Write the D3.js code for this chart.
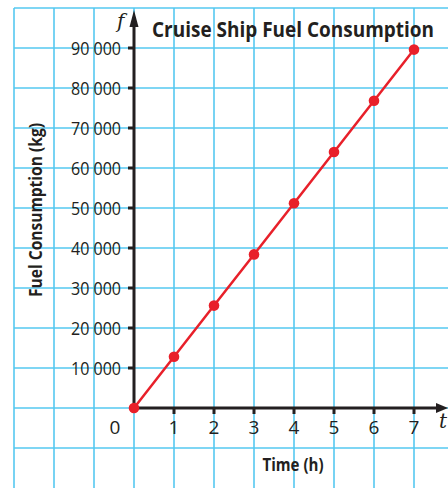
<!DOCTYPE html>
<meta charset="utf-8">
<style>
  body { margin: 0; background: #fff; }
  svg { display: block; font-family: "Open Sans", "Noto Sans", sans-serif; }
  .grid line { stroke: #55c8f0; stroke-width: 1.6; }
  .axis line, .axis path { stroke: #231f20; stroke-width: 3; fill: none; }
  .tick-label { font-size: 19px; fill: #231f20; }
  .title { font-size: 19px; font-weight: 700; fill: #231f20; }
  .ax-title { font-size: 16px; font-weight: 700; fill: #231f20; }
  .var { font-family: "DejaVu Serif", "Liberation Serif", serif; font-style: italic; font-size: 20px; fill: #231f20; }
</style>
<body>
<div id="chart"></div>
<script src="https://cdn.jsdelivr.net/npm/d3@7"></script>
<script>
  // hours and fuel used (kg)
  var hours = [0, 1, 2, 3, 4, 5, 6, 7],
      fuel = [0, 12800, 25600, 38400, 51200, 64000, 76800, 89600],
      xTicks = [1, 2, 3, 4, 5, 6, 7],
      yTicks = [10000, 20000, 30000, 40000, 50000, 60000, 70000, 80000, 90000],
      gridX = [-3, -2, -1, 0, 1, 2, 3, 4, 5, 6, 7],
      gridY = [-10000, 0, 10000, 20000, 30000, 40000, 50000, 60000, 70000, 80000, 90000, 100000];

  var width = 448, height = 488;

  var x = d3.scaleLinear().domain([0, 7]).range([134, 414]),
      y = d3.scaleLinear().domain([0, 90000]).range([408, 48]);

  var fmt = d3.formatLocale({decimal: ".", thousands: " ", grouping: [3], currency: ["", ""]}).format(",");

  var svg = d3.select("#chart").append("svg")
      .attr("width", width)
      .attr("height", height);

  // grid
  var grid = svg.append("g").attr("class", "grid");
  grid.selectAll("line.v")
      .data(gridX)
    .enter().append("line")
      .attr("class", "v")
      .attr("x1", function(d) { return x(d); })
      .attr("x2", function(d) { return x(d); })
      .attr("y1", y(100000))
      .attr("y2", height);
  grid.selectAll("line.h")
      .data(gridY)
    .enter().append("line")
      .attr("class", "h")
      .attr("x1", x(-3))
      .attr("x2", width)
      .attr("y1", function(d) { return y(d); })
      .attr("y2", function(d) { return y(d); });

  // axes
  var ax = svg.append("g").attr("class", "axis");
  ax.append("line")
      .attr("x1", x(0)).attr("x2", x(0))
      .attr("y1", y(0)).attr("y2", 24);
  ax.append("line")
      .attr("x1", x(0)).attr("x2", 436)
      .attr("y1", y(0)).attr("y2", y(0));
  ax.append("path")
      .attr("d", "M" + x(0) + ",10L" + (x(0) + 4.5) + ",27L" + (x(0) - 4.5) + ",27Z")
      .style("fill", "#231f20").style("stroke", "none");
  ax.append("path")
      .attr("d", "M448," + y(0) + "L436," + (y(0) - 5) + "L436," + (y(0) + 5) + "Z")
      .style("fill", "#231f20").style("stroke", "none");

  ax.selectAll("line.xt")
      .data(xTicks)
    .enter().append("line")
      .attr("class", "xt")
      .attr("x1", function(d) { return x(d); })
      .attr("x2", function(d) { return x(d); })
      .attr("y1", y(0))
      .attr("y2", y(0) + 6);
  ax.selectAll("line.yt")
      .data(yTicks)
    .enter().append("line")
      .attr("class", "yt")
      .attr("x1", x(0) - 6)
      .attr("x2", x(0))
      .attr("y1", function(d) { return y(d); })
      .attr("y2", function(d) { return y(d); });

  svg.selectAll("text.xl")
      .data(xTicks)
    .enter().append("text")
      .attr("class", "tick-label xl")
      .attr("x", function(d) { return x(d); })
      .attr("y", 434)
      .attr("text-anchor", "middle")
      .text(function(d) { return d; });
  svg.append("text")
      .attr("class", "tick-label")
      .attr("x", 115)
      .attr("y", 434)
      .attr("text-anchor", "middle")
      .text("0");
  svg.selectAll("text.yl")
      .data(yTicks)
    .enter().append("text")
      .attr("class", "tick-label yl")
      .attr("x", 121)
      .attr("y", function(d) { return y(d) + 7; })
      .attr("text-anchor", "end")
      .attr("textLength", 50)
      .attr("lengthAdjust", "spacingAndGlyphs")
      .text(function(d) { return fmt(d); });

  // variable names
  svg.append("text").attr("class", "var").attr("x", 117).attr("y", 28).text("f");
  svg.append("text").attr("class", "var").attr("x", 439).attr("y", 428).text("t");

  // titles
  svg.append("text")
      .attr("class", "title")
      .attr("transform", "translate(152,37)scale(1,1.1)")
      .attr("textLength", 282)
      .attr("lengthAdjust", "spacingAndGlyphs")
      .text("Cruise Ship Fuel Consumption");
  svg.append("text")
      .attr("class", "ax-title")
      .attr("transform", "translate(42,210)rotate(-90)scale(1,1.1)")
      .attr("text-anchor", "middle")
      .attr("textLength", 174)
      .attr("lengthAdjust", "spacingAndGlyphs")
      .text("Fuel Consumption (kg)");
  svg.append("text")
      .attr("class", "ax-title")
      .attr("transform", "translate(293,471)scale(1,1.1)")
      .attr("text-anchor", "middle")
      .attr("textLength", 61)
      .attr("lengthAdjust", "spacingAndGlyphs")
      .text("Time (h)");

  // data line
  var line = d3.line()
      .x(function(d, i) { return x(hours[i]); })
      .y(function(d) { return y(d); });

  svg.append("path")
      .attr("d", line(fuel))
      .style("fill", "none")
      .style("stroke", "#e8202a")
      .style("stroke-width", 2.5);

  svg.selectAll("circle")
      .data(fuel)
    .enter().append("circle")
      .attr("cx", function(d, i) { return x(hours[i]); })
      .attr("cy", function(d) { return y(d); })
      .attr("r", 5.3)
      .style("fill", "#e8202a");
</script>
</body>
